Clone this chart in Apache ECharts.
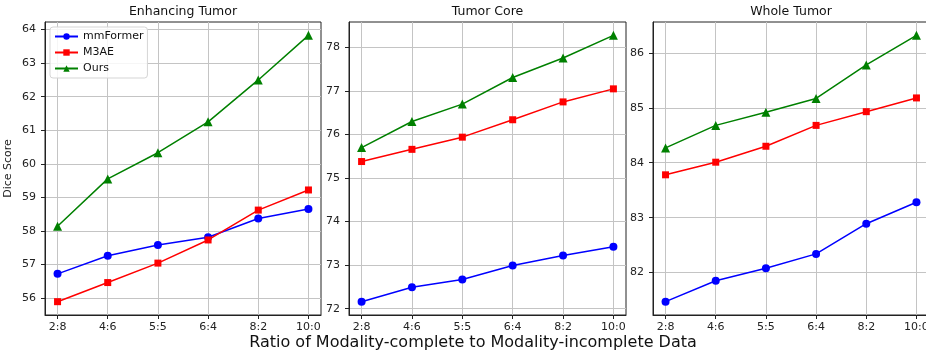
<!DOCTYPE html>
<html>
<head>
<meta charset="utf-8">
<script src="https://cdn.jsdelivr.net/npm/echarts@6/dist/echarts.min.js"></script>
<style>html,body{margin:0;padding:0;background:#fff;}#c{width:926px;height:354px;}</style>
</head>
<body>
<div id="c"></div>
<script>
const categories = ['2:8', '4:6', '5:5', '6:4', '8:2', '10:0'];
const panelTitles = ['Enhancing Tumor', 'Tumor Core', 'Whole Tumor'];
const seriesNames = ['mmFormer', 'M3AE', 'Ours'];

const etMmFormer = [56.72, 57.26, 57.58, 57.81, 58.37, 58.65];
const etM3AE     = [55.89, 56.46, 57.04, 57.73, 58.62, 59.22];
const etOurs     = [58.14, 59.55, 60.33, 61.25, 62.50, 63.83];

const tcMmFormer = [72.16, 72.49, 72.67, 72.99, 73.22, 73.42];
const tcM3AE     = [75.38, 75.66, 75.94, 76.34, 76.75, 77.05];
const tcOurs     = [75.70, 76.30, 76.70, 77.31, 77.76, 78.28];

const wtMmFormer = [81.47, 81.85, 82.08, 82.34, 82.89, 83.28];
const wtM3AE     = [83.78, 84.01, 84.30, 84.68, 84.93, 85.18];
const wtOurs     = [84.27, 84.68, 84.92, 85.17, 85.78, 86.32];

const etTicks = [56, 57, 58, 59, 60, 61, 62, 63, 64];
const tcTicks = [72, 73, 74, 75, 76, 77, 78];
const wtTicks = [82, 83, 84, 85, 86];

const panels = [
  { title: panelTitles[0], data: [etMmFormer, etM3AE, etOurs], ticks: etTicks },
  { title: panelTitles[1], data: [tcMmFormer, tcM3AE, tcOurs], ticks: tcTicks },
  { title: panelTitles[2], data: [wtMmFormer, wtM3AE, wtOurs], ticks: wtTicks }
];

const colors = ['#0000ff', '#ff0000', '#008000'];
const symbols = ['circle', 'rect', 'triangle'];
const symbolSizes = [8, 7, 9];
const FONT = 'DejaVu Sans';
const gridLefts = [45, 349, 653];
const gridRights = [605, 300, -3];
const idx = categories.map((_, i) => i);

const grids = [], xAxes = [], yAxes = [], series = [], graphics = [];
panels.forEach((p, k) => {
  grids.push({ left: gridLefts[k], right: gridRights[k], top: 22, bottom: 39, show: true, borderColor: '#222', borderWidth: 1, containLabel: false, outerBoundsMode: 'none' });
  const all = p.data.flat();
  const lo = Math.min(...all), hi = Math.max(...all), pad = (hi - lo) * 0.05;
  xAxes.push({
    type: 'value', gridIndex: k, min: -0.25, max: categories.length - 1 + 0.25,
    axisLine: { show: true, onZero: false, lineStyle: { color: '#222', width: 1 } },
    axisTick: { show: true, length: 4, lineStyle: { color: '#222' }, customValues: idx },
    axisLabel: { customValues: idx, formatter: v => categories[Math.round(v)], color: '#222', fontFamily: FONT, fontSize: 11, margin: 7 },
    splitLine: { show: true, lineStyle: { color: '#c4c4c4', width: 1 } }
  });
  yAxes.push({
    type: 'value', gridIndex: k, min: lo - pad, max: hi + pad,
    name: k === 0 ? 'Dice Score' : '', nameLocation: 'middle', nameGap: 31,
    nameTextStyle: { fontFamily: FONT, fontSize: 11, color: '#222' },
    axisLine: { show: true, onZero: false, lineStyle: { color: '#222', width: 1 } },
    axisTick: { show: true, length: 4, lineStyle: { color: '#222' }, customValues: p.ticks },
    axisLabel: { customValues: p.ticks, formatter: v => String(Math.round(v)), color: '#222', fontFamily: FONT, fontSize: 11, margin: 9 },
    splitLine: { show: true, lineStyle: { color: '#c4c4c4', width: 1 } }
  });
  p.data.forEach((vals, s) => {
    series.push({
      name: seriesNames[s], type: 'line', xAxisIndex: k, yAxisIndex: k,
      data: vals.map((v, i) => [idx[i], v]),
      symbol: symbols[s], symbolSize: symbolSizes[s],
      lineStyle: { color: colors[s], width: 1.5 },
      itemStyle: { color: colors[s] },
      z: 3 + s
    });
  });
});
const titleCenters = [183, 487.5, 791];
panels.forEach((p, k) => {
  graphics.push({
    type: 'text', x: titleCenters[k], y: 12,
    style: { text: p.title, font: '12.5px "DejaVu Sans"', fill: '#111', textAlign: 'center', textVerticalAlign: 'middle' }
  });
});
graphics.push({
  type: 'text', x: 473, y: 343,
  style: { text: 'Ratio of Modality-complete to Modality-incomplete Data', font: '16px "DejaVu Sans"', fill: '#111', textAlign: 'center', textVerticalAlign: 'middle' }
});

const chart = echarts.init(document.getElementById('c'), null, { renderer: 'canvas' });
chart.setOption({
  animation: false,
  backgroundColor: '#fff',
  grid: grids, xAxis: xAxes, yAxis: yAxes, series: series,
  graphic: graphics,
  legend: {
    data: seriesNames, orient: 'vertical', left: 50, top: 27,
    itemWidth: 23, itemHeight: 8, itemGap: 5,
    padding: [4, 4, 4, 4],
    backgroundColor: 'rgba(255,255,255,0.85)', borderColor: '#d5d5d5', borderWidth: 1, borderRadius: 3,
    textStyle: { fontFamily: FONT, fontSize: 11, color: '#111' }
  }
});
</script>
</body>
</html>
